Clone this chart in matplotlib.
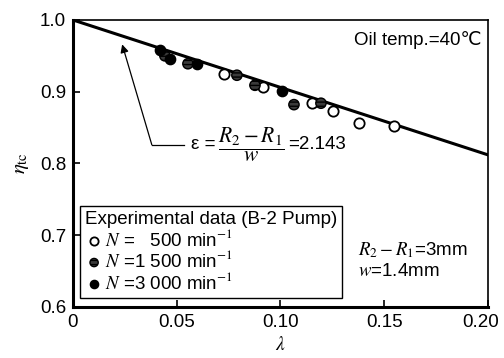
import numpy as np
import matplotlib as mpl
import matplotlib.pyplot as plt
import matplotlib.transforms as mtransforms

plt.rcParams["font.family"] = ["Liberation Sans", "DejaVu Sans"]
plt.rcParams["mathtext.fontset"] = "stix"
plt.rcParams["hatch.color"] = "white"
plt.rcParams["hatch.linewidth"] = 1.0

# data
lam_500 = [0.0728, 0.0916, 0.1152, 0.1253, 0.1380, 0.1547]
eta_500 = [0.925, 0.907, 0.884, 0.873, 0.856, 0.852]

lam_1500 = [0.0443, 0.0554, 0.0790, 0.0877, 0.1065, 0.1195]
eta_1500 = [0.950, 0.939, 0.923, 0.909, 0.882, 0.884]

lam_3000 = [0.0419, 0.0467, 0.0598, 0.1007]
eta_3000 = [0.958, 0.946, 0.939, 0.901]

# theory line, eps = 2.143
line_lam = [0.0, 0.20]
line_eta = [1.0, 0.812]

fs = 13.5

fig = plt.figure(figsize=(5.04, 3.58), dpi=100)
ax = fig.add_axes([0.1448, 0.1425, 0.8234, 0.8017])

ax.plot(line_lam, line_eta, color="black", lw=2.2, zorder=2)

ms = 55
ax.scatter(lam_500, eta_500, s=ms, facecolor="white", edgecolor="black",
           linewidth=1.3, zorder=3, label=r"$N$ =   500 min$^{-1}$")
ax.scatter(lam_1500, eta_1500, s=ms, facecolor="#3a3a3a", edgecolor="black",
           linewidth=1.0, hatch="----", zorder=3, label=r"$N$ =1 500 min$^{-1}$")
ax.scatter(lam_3000, eta_3000, s=ms, facecolor="black", edgecolor="black",
           linewidth=1.0, zorder=3, label=r"$N$ =3 000 min$^{-1}$")

ax.set_xlim(0, 0.20)
ax.set_ylim(0.6, 1.0)
ax.set_xticks([0, 0.05, 0.10, 0.15, 0.20])
ax.set_xticklabels(["0", "0.05", "0.10", "0.15", "0.20"])
ax.set_yticks([0.6, 0.7, 0.8, 0.9, 1.0])
ax.set_yticklabels(["0.6", "0.7", "0.8", "0.9", "1.0"])
ax.tick_params(direction="in", length=5, width=1.2, labelsize=fs, pad=5)

# last x label sits a little left of its tick in the original
last = ax.get_xticklabels()[-1]
last.set_transform(last.get_transform() +
                   mtransforms.ScaledTranslation(-7 / 100, 0, fig.dpi_scale_trans))

for side in ["left", "bottom"]:
    ax.spines[side].set_linewidth(2.2)
for side in ["top", "right"]:
    ax.spines[side].set_linewidth(1.2)

ax.set_xlabel(r"$\lambda$", fontsize=14, labelpad=4)
ax.set_ylabel(r"$\eta_{\rm tc}$", fontsize=15, labelpad=6)

ax.text(0.985, 0.96, "Oil temp.=40℃", transform=ax.transAxes,
        ha="right", va="top", fontsize=fs)
ax.text(0.688, 0.095, r"$R_2-R_1$=3mm" + "\n" + r"$w$=1.4mm",
        transform=ax.transAxes, ha="left", va="bottom", fontsize=fs,
        linespacing=1.2)

# epsilon annotation with a bent leader
ax.plot([0.0380, 0.0533], [0.826, 0.826], color="black", lw=0.9, zorder=1)
ax.annotate("", xy=(0.0237, 0.966), xytext=(0.0380, 0.826),
            arrowprops=dict(arrowstyle="-|>", color="black", lw=0.9,
                            mutation_scale=12, shrinkA=0, shrinkB=0))
ax.text(0.0570, 0.826, "ε =", ha="left", va="center", fontsize=fs)
ax.text(0.0700, 0.826, r"$\dfrac{R_2-R_1}{w}$", ha="left", va="center",
        fontsize=15.5)
ax.text(0.1035, 0.826, "=2.143", ha="left", va="center", fontsize=fs)

leg = ax.legend(loc="lower left", bbox_to_anchor=(0.017, 0.031),
                borderaxespad=0, title="Experimental data (B-2 Pump)",
                title_fontsize=fs, fontsize=fs, frameon=True, fancybox=False,
                edgecolor="black", framealpha=1, handletextpad=0.1,
                handlelength=1.0, labelspacing=0.05, borderpad=0.25,
                alignment="left", scatterpoints=1, markerscale=0.8)
leg.get_frame().set_linewidth(1.0)

fig.savefig("out.png", dpi=100)
